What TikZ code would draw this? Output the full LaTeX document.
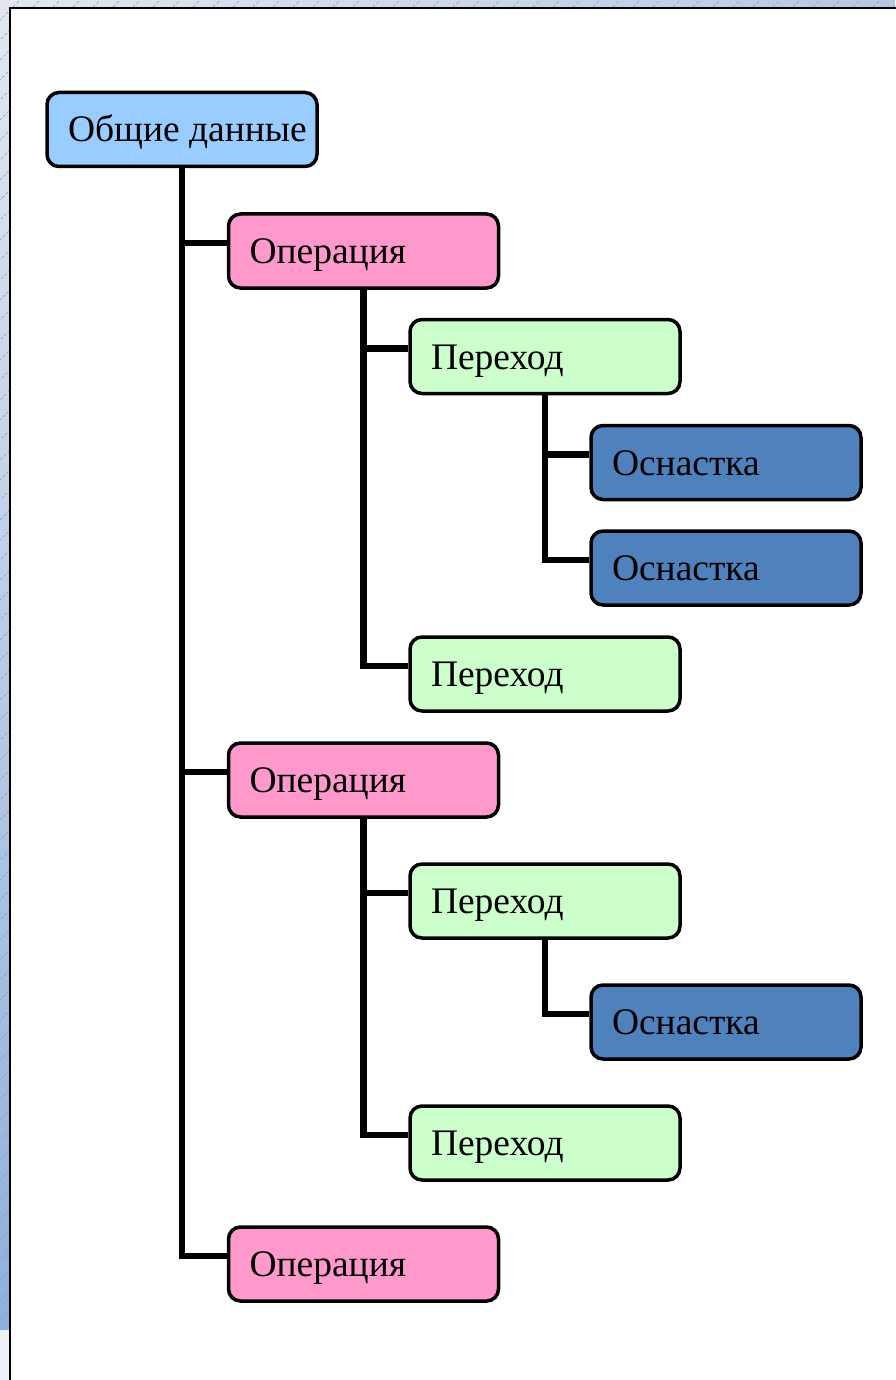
\documentclass[tikz,border=0pt]{standalone}
\usepackage{fontspec}
\setmainfont{Liberation Serif}
\definecolor{genfill}{HTML}{99CCFF}
\definecolor{opfill}{HTML}{FF99CC}
\definecolor{trfill}{HTML}{CCFFCC}
\definecolor{tlfill}{HTML}{4F81BD}
\definecolor{bgtop}{HTML}{E2E7EF}
\definecolor{bgleftbot}{HTML}{8EB0DC}
\definecolor{bgright}{HTML}{B4C8E4}
\definecolor{hatch}{HTML}{8C9AB0}
\newcommand{\lbl}[1]{\makebox[228pt][l]{#1}}
\tikzset{
  box/.style={draw=black, line width=3.5pt, rounded corners=12pt,
    minimum width=270pt, minimum height=74pt, inner xsep=21pt, inner ysep=0pt,
    text height=25pt, text depth=0pt,
    font=\fontsize{37.5}{40}\selectfont},
  gen/.style={box, fill=genfill},
  oper/.style={box, fill=opfill},
  trans/.style={box, fill=trfill},
  tool/.style={box, fill=tlfill},
  link/.style={draw=black, line width=6.5pt, line join=miter}
}
\begin{document}
\begin{tikzpicture}[x=1pt,y=-1pt]
\useasboundingbox (0,0) rectangle (895,1380);
% outer background strips
\shade[top color=bgtop, bottom color=bgleftbot] (0,0) rectangle (10,1330);
\fill[bgtop!60] (0,1330) rectangle (10,1380);
\shade[left color=bgtop, right color=bgright] (0,0) rectangle (895,8);
\begin{scope}
  \clip (0,0) rectangle (10,1330) (0,0) rectangle (895,8);
  \foreach \k in {-1400,-1380,...,900} {
    \draw[hatch, line width=0.6pt, densely dashed] (\k,1400) -- ++(1400,-1400);
  }
\end{scope}
% page
\draw[fill=white, draw=black, line width=1.5pt] (10,8) rectangle (910,1395);
% nodes
\node[gen]   (g0)  at (182,129.5) {\lbl{Общие данные}};
\node[oper]  (op1) at (363.5,251) {\lbl{Операция}};
\node[trans] (p1)  at (545,356.5) {\lbl{Переход}};
\node[tool]  (o1)  at (726,462.5) {\lbl{Оснастка}};
\node[tool]  (o2)  at (726,568) {\lbl{Оснастка}};
\node[trans] (p2)  at (545,674) {\lbl{Переход}};
\node[oper]  (op2) at (363.5,780) {\lbl{Операция}};
\node[trans] (p3)  at (545,901) {\lbl{Переход}};
\node[tool]  (o3)  at (726,1022) {\lbl{Оснастка}};
\node[trans] (p4)  at (545,1143) {\lbl{Переход}};
\node[oper]  (op3) at (363.5,1264) {\lbl{Операция}};
% connectors
\foreach \src/\dst in {g0/op1, g0/op2, g0/op3, op1/p1, op1/p2, p1/o1, p1/o2, op2/p3, op2/p4, p3/o3} {
  \draw[link] (\src.south) |- ([yshift=8pt]\dst.west);
}
\end{tikzpicture}
\end{document}
